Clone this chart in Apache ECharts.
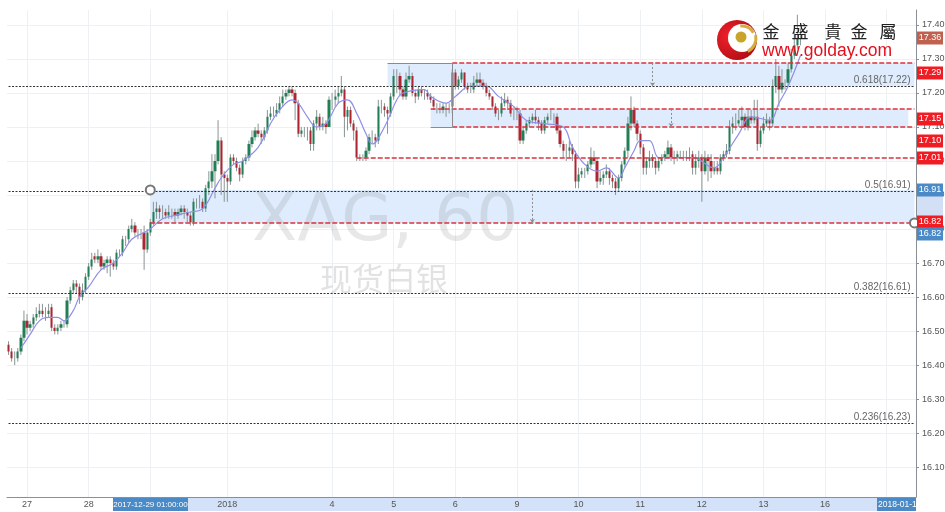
<!DOCTYPE html>
<html><head><meta charset="utf-8">
<style>html,body{margin:0;padding:0;background:#fff}#c{width:945px;height:512px;filter:blur(0.35px)}</style>
<script src="https://cdn.jsdelivr.net/npm/echarts@6/dist/echarts.min.js"></script>
</head><body><div id="c"></div>
<script>
const barCount = 295;
const dayTickIdx = [6,26,46,71,105,125,145,165,185,205,225,245,265,285];
const dayTickLabels = ['27','28','','2018','4','5','6','9','10','11','12','13','16',''];
const yTicks = [16.1,16.2,16.3,16.4,16.5,16.6,16.7,16.8,16.9,17.0,17.1,17.2,17.3,17.4];

const opens = [
16.46,16.44,16.42,16.42,16.44,16.48,16.53,16.51,16.52,16.54,
16.55,16.56,16.55,16.55,16.57,16.51,16.50,16.51,16.52,16.52,
16.59,16.62,16.64,16.63,16.60,16.62,16.66,16.69,16.72,16.71,
16.72,16.69,16.70,16.71,16.70,16.69,16.73,16.73,16.77,16.77,
16.80,16.81,16.79,16.79,16.79,16.74,16.79,16.82,16.85,16.86,
16.85,16.85,16.84,16.85,16.85,16.84,16.85,16.86,16.85,16.84,
16.82,16.88,16.88,16.88,16.86,16.92,16.94,16.97,17.00,17.06,
16.96,16.95,16.94,17.01,17.00,16.98,16.96,17.00,17.01,17.05,
17.07,17.09,17.08,17.07,17.09,17.13,17.14,17.14,17.15,17.17,
17.19,17.20,17.21,17.20,17.17,17.08,17.09,17.09,17.09,17.05,
17.11,17.13,17.10,17.11,17.10,17.18,17.18,17.19,17.20,17.21,
17.13,17.15,17.11,17.09,17.01,17.01,17.01,17.03,17.07,17.07,
17.06,17.16,17.16,17.15,17.14,17.19,17.25,17.25,17.21,17.19,
17.24,17.25,17.20,17.19,17.21,17.20,17.20,17.19,17.18,17.16,
17.16,17.15,17.16,17.16,17.16,17.26,17.22,17.24,17.26,17.22,
17.21,17.21,17.23,17.24,17.23,17.22,17.20,17.19,17.16,17.14,
17.14,17.17,17.18,17.17,17.14,17.14,17.14,17.06,17.09,17.11,
17.12,17.13,17.12,17.11,17.09,17.12,17.13,17.13,17.13,17.09,
17.05,17.03,17.03,17.04,17.02,16.94,16.96,16.97,16.97,16.99,
17.01,17.00,16.94,16.95,16.96,16.97,16.95,16.94,16.92,16.95,
16.99,17.03,17.11,17.15,17.11,17.08,17.04,16.98,17.00,17.01,
17.00,16.98,17.00,17.01,17.02,17.04,17.01,17.01,17.02,17.02,
17.02,17.02,17.02,16.98,17.00,17.01,16.97,17.01,17.00,16.97,
16.98,16.97,17.01,17.02,17.03,17.10,17.11,17.11,17.12,17.13,
17.10,17.13,17.12,17.13,17.05,17.09,17.11,17.12,17.11,17.22,
17.25,17.21,17.23,17.23,17.27,17.31,17.34,17.36];
const closes = [
16.44,16.42,16.42,16.44,16.48,16.53,16.51,16.52,16.54,16.55,
16.56,16.55,16.55,16.56,16.51,16.50,16.51,16.52,16.52,16.59,
16.62,16.64,16.63,16.60,16.62,16.66,16.69,16.71,16.71,16.72,
16.69,16.70,16.71,16.70,16.69,16.73,16.73,16.77,16.77,16.80,
16.81,16.79,16.79,16.79,16.74,16.79,16.82,16.85,16.86,16.85,
16.85,16.84,16.85,16.85,16.84,16.85,16.86,16.85,16.84,16.82,
16.88,16.88,16.88,16.86,16.92,16.94,16.97,17.00,17.06,16.96,
16.95,16.94,17.01,17.00,16.98,16.96,17.00,17.01,17.05,17.07,
17.09,17.08,17.07,17.09,17.13,17.14,17.14,17.15,17.17,17.19,
17.20,17.21,17.20,17.17,17.08,17.09,17.09,17.09,17.05,17.11,
17.13,17.10,17.11,17.10,17.18,17.18,17.19,17.20,17.21,17.13,
17.15,17.11,17.09,17.01,17.01,17.01,17.03,17.07,17.07,17.06,
17.16,17.16,17.15,17.14,17.19,17.25,17.25,17.21,17.19,17.24,
17.25,17.20,17.19,17.21,17.20,17.20,17.19,17.18,17.16,17.16,
17.16,17.16,17.16,17.16,17.26,17.22,17.24,17.26,17.22,17.21,
17.21,17.23,17.24,17.23,17.22,17.20,17.19,17.16,17.14,17.14,
17.17,17.18,17.17,17.14,17.14,17.14,17.06,17.09,17.11,17.12,
17.13,17.12,17.11,17.09,17.12,17.13,17.13,17.13,17.09,17.05,
17.03,17.03,17.04,17.02,16.94,16.96,16.97,16.97,16.99,17.01,
17.00,16.94,16.95,16.96,16.97,16.95,16.94,16.92,16.95,16.99,
17.03,17.11,17.15,17.11,17.08,17.04,16.98,17.00,17.01,17.00,
16.98,17.00,17.01,17.02,17.04,17.01,17.01,17.02,17.02,17.02,
17.02,17.02,16.98,17.00,17.01,16.97,17.01,17.00,16.97,16.98,
16.97,17.01,17.02,17.03,17.10,17.11,17.11,17.12,17.13,17.10,
17.13,17.12,17.13,17.05,17.09,17.11,17.12,17.11,17.22,17.25,
17.21,17.23,17.23,17.27,17.31,17.34,17.36,17.36];
const highs = [
16.47,16.45,16.44,16.45,16.49,16.56,16.55,16.53,16.55,16.57,
16.58,16.58,16.57,16.58,16.58,16.52,16.52,16.53,16.53,16.60,
16.63,16.65,16.65,16.64,16.64,16.67,16.70,16.73,16.73,16.74,
16.73,16.71,16.72,16.72,16.71,16.74,16.74,16.78,16.78,16.81,
16.83,16.82,16.80,16.80,16.81,16.80,16.83,16.88,16.88,16.87,
16.87,16.86,16.87,16.86,16.86,16.86,16.87,16.87,16.86,16.85,
16.89,16.89,16.90,16.89,16.93,16.97,17.02,17.02,17.12,17.07,
16.97,16.96,17.02,17.02,17.01,16.99,17.01,17.02,17.06,17.09,
17.10,17.11,17.09,17.10,17.15,17.16,17.16,17.17,17.19,17.21,
17.21,17.22,17.22,17.21,17.18,17.10,17.10,17.10,17.10,17.12,
17.15,17.14,17.13,17.12,17.19,17.20,17.21,17.22,17.25,17.22,
17.16,17.16,17.12,17.10,17.02,17.02,17.04,17.08,17.09,17.08,
17.18,17.18,17.17,17.16,17.20,17.27,17.27,17.26,17.22,17.26,
17.28,17.26,17.21,17.22,17.22,17.21,17.21,17.20,17.19,17.17,
17.17,17.17,17.17,17.17,17.27,17.27,17.25,17.27,17.26,17.23,
17.23,17.25,17.26,17.26,17.24,17.23,17.21,17.19,17.17,17.15,
17.19,17.20,17.19,17.18,17.16,17.16,17.15,17.10,17.12,17.13,
17.14,17.15,17.13,17.12,17.13,17.14,17.15,17.14,17.14,17.10,
17.06,17.05,17.06,17.05,17.03,16.98,16.98,16.98,17.00,17.04,
17.03,17.01,16.97,16.97,16.99,16.98,16.96,16.95,16.96,17.00,
17.04,17.13,17.19,17.16,17.12,17.09,17.05,17.01,17.03,17.02,
17.01,17.01,17.02,17.03,17.06,17.05,17.03,17.03,17.03,17.03,
17.03,17.04,17.03,17.02,17.03,17.02,17.03,17.02,17.02,17.00,
17.00,17.02,17.03,17.05,17.12,17.13,17.14,17.15,17.16,17.14,
17.15,17.15,17.18,17.18,17.10,17.13,17.14,17.13,17.24,17.30,
17.28,17.27,17.24,17.29,17.33,17.38,17.43,17.39];
const lows = [
16.43,16.41,16.40,16.41,16.43,16.47,16.49,16.50,16.51,16.53,
16.54,16.54,16.53,16.54,16.50,16.49,16.49,16.50,16.51,16.51,
16.58,16.61,16.61,16.58,16.59,16.61,16.65,16.68,16.70,16.70,
16.68,16.68,16.67,16.66,16.68,16.68,16.72,16.72,16.75,16.76,
16.79,16.78,16.77,16.77,16.68,16.73,16.78,16.81,16.83,16.83,
16.83,16.83,16.83,16.83,16.82,16.83,16.84,16.83,16.82,16.81,
16.81,16.86,16.86,16.85,16.85,16.90,16.92,16.89,16.99,16.90,
16.88,16.88,16.93,16.99,16.97,16.94,16.95,16.99,17.00,17.04,
17.06,17.07,17.05,17.06,17.08,17.12,17.13,17.13,17.14,17.16,
17.18,17.19,17.19,17.12,17.07,17.07,17.07,17.06,17.03,17.03,
17.09,17.09,17.09,17.08,17.10,17.15,17.16,17.17,17.19,17.07,
17.09,17.10,17.06,17.00,17.00,17.00,17.00,17.02,17.05,17.04,
17.05,17.14,17.13,17.08,17.13,17.18,17.20,17.19,17.18,17.18,
17.23,17.19,17.17,17.18,17.19,17.18,17.18,17.17,17.15,17.14,
17.14,17.14,17.13,17.14,17.14,17.21,17.21,17.23,17.21,17.20,
17.20,17.20,17.22,17.22,17.21,17.19,17.18,17.15,17.13,17.12,
17.13,17.16,17.15,17.13,17.12,17.12,17.05,17.05,17.08,17.10,
17.11,17.11,17.09,17.08,17.08,17.11,17.12,17.11,17.08,17.04,
17.01,17.00,17.01,17.00,16.92,16.92,16.95,16.95,16.96,16.98,
16.99,16.92,16.93,16.93,16.95,16.93,16.92,16.90,16.91,16.94,
16.98,17.01,17.09,17.10,17.06,17.02,16.96,16.96,16.98,16.98,
16.96,16.97,16.99,17.00,17.01,17.00,16.99,17.00,17.01,17.00,
17.00,17.00,16.96,16.96,16.98,16.88,16.96,16.94,16.95,16.96,
16.96,16.96,17.00,17.01,17.02,17.08,17.09,17.10,17.10,17.09,
17.09,17.11,17.11,17.03,17.04,17.08,17.10,17.09,17.10,17.20,
17.16,17.20,17.21,17.22,17.26,17.30,17.33,17.34];

// moving average read at the visible bends: bar index, value
const maIdx = [4,7,10,13,16,18,21,23,26,30,34,37,40,44,46,50,54,59,63,67,69,73,76,81,85,88,92,94,97,100,103,107,110,113,116,118,122,126,128,135,137,142,145,150,155,159,164,168,174,180,183,187,191,194,198,200,203,205,208,211,214,222,229,232,237,241,247,250,253,257];
const maValues = [16.45,16.49,16.53,16.54,16.54,16.53,16.56,16.60,16.63,16.68,16.70,16.73,16.77,16.79,16.80,16.83,16.84,16.85,16.86,16.92,16.95,16.99,17.00,17.04,17.11,17.15,17.18,17.17,17.13,17.10,17.11,17.17,17.18,17.14,17.08,17.05,17.10,17.18,17.20,17.21,17.19,17.17,17.19,17.22,17.22,17.19,17.16,17.12,17.11,17.10,17.04,16.99,16.97,16.98,16.95,16.98,17.03,17.06,17.06,17.01,17.01,17.01,16.98,17.01,17.08,17.13,17.12,17.17,17.22,17.31];

const fibLevels = [17.22,16.91,16.61,16.23];
const fibLabels = ['0.618(17.22)','0.5(16.91)','0.382(16.61)','0.236(16.23)'];
const redLevels = [17.288,17.153,17.10,17.009,16.818];
const redStarts = [144,137,144,113,46];
const bandTop = [17.288,17.153,16.915];
const bandBottom = [17.22,17.10,16.818];
const bandStart = [123,137,46];
const arrowIdx = [209,215,170];
const priceTagText = ['17.36','17.29','17.15','17.10','17.01','16.91','16.82','16.82'];
const axisTagText = ['2017-12-29 01:00:00','2018-01-17'];

const lastIdx = barCount - 1;
const categories = Array.from({length: barCount}, (_, i) => {
  const k = dayTickIdx.indexOf(i);
  return k >= 0 ? dayTickLabels[k] : '';
});
const isDay = i => dayTickIdx.indexOf(i) >= 0;
const candleData = closes.map((c, i) => [opens[i], c, lows[i], highs[i]]);
const wickData = closes.map((c, i) => [i, lows[i], highs[i]]);
const maData = maIdx.map((x, i) => [x, maValues[i]]);

const GRID = '#eef1f4';
const lineOf = (a, b, style, extra) => [Object.assign({coord: a, lineStyle: style}, extra || {}), {coord: b}];
const redStyle = {color: '#d9323c', type: [5, 2], width: 1.5};
const fibStyle = {color: '#333', type: [2, 1.5], width: 1};
const edgeStyle = {color: '#8b8b8b', type: 'solid', width: 1};
const arrowStyle = {color: '#8d8d8d', type: [2, 2], width: 1};

const markLines = [];
fibLevels.forEach((v, i) => markLines.push([
  {coord: [0, v], lineStyle: fibStyle, label: {show: true, position: 'insideEndTop', formatter: fibLabels[i], color: '#666', fontSize: 10, fontFamily: 'Liberation Sans', distance: [4, 1]}},
  {coord: [lastIdx, v]}]));
redLevels.forEach((v, i) => markLines.push(lineOf([redStarts[i], v], [lastIdx, v], redStyle)));
markLines.push(lineOf([bandStart[0], bandTop[0]], [144, bandTop[0]], edgeStyle));
markLines.push(lineOf([144, bandTop[0]], [144, bandBottom[1]], edgeStyle));
markLines.push(lineOf([137, bandBottom[1]], [144, bandBottom[1]], edgeStyle));
const arrowLines = arrowIdx.map((x, i) => [
  {coord: [x, bandTop[i]], lineStyle: arrowStyle, symbol: 'none'},
  {coord: [x, bandBottom[i]], symbol: 'arrow', symbolSize: 4}]);

const logoText = [['金',771],['盛',800],['貴',833],['金',859],['屬',888]];
const tagY = [38, 73, 119, 141, 158, 190, 222, 234];
const tagColor = ['#c2604f','#f01c24','#f01c24','#f01c24','#f01c24','#4a8ac6','#f01c24','#4a8ac6'];

const graphics = [
  {type:'text', z:1, silent:true, style:{x:252, y:190, text:'XAG, 60', fill:'rgba(110,110,110,0.16)', font:'66px "DejaVu Sans", sans-serif'}},
  {type:'text', z:1, silent:true, style:{x:320, y:263, text:'现货白银', fill:'rgba(110,110,110,0.2)', font:'32px "Noto Sans CJK SC", sans-serif'}},
  {type:'rect', z:-1, silent:true, shape:{x:151, y:498, width:735, height:13}, style:{fill:'#d3e2f8'}},
  {type:'rect', z:9, silent:true, shape:{x:917, y:190, width:26, height:33}, style:{fill:'#d3dff5'}},
  {type:'rect', z:10, silent:true, shape:{x:113, y:498, width:75, height:13}, style:{fill:'#4a8ac6'}},
  {type:'text', z:11, silent:true, style:{x:150.5, y:504.5, text:axisTagText[0], fill:'#fff', font:'8px "Liberation Sans", sans-serif', textAlign:'center', textVerticalAlign:'middle'}},
  {type:'group', z:10, silent:true, children:[
    {type:'rect', z:10, shape:{x:877, y:498, width:39, height:13}, style:{fill:'#4a8ac6'}},
    {type:'text', z:11, style:{x:878, y:504.5, text:'2018-01-1', fill:'#fff', font:'8.5px "Liberation Sans", sans-serif', textVerticalAlign:'middle'}}
  ]},
  // logo
  {type:'circle', z:12, silent:true, shape:{cx:737, cy:40, r:20}, style:{fill:{type:'radial',x:0.3,y:0.4,r:0.8,colorStops:[{offset:0,color:'#f0202a'},{offset:1,color:'#a80c14'}]}}},
  {type:'circle', z:13, silent:true, shape:{cx:742, cy:38, r:14}, style:{fill:'#fff'}},
  {type:'arc', z:14, silent:true, shape:{cx:742, cy:39, r:13, startAngle:-1.7, endAngle:-0.5}, style:{stroke:'#d6ad3c', lineWidth:3, fill:'none'}},
  {type:'arc', z:14, silent:true, shape:{cx:741, cy:38, r:15, startAngle:-0.2, endAngle:1.1}, style:{stroke:'#d6ad3c', lineWidth:3, fill:'none'}},
  {type:'circle', z:14, silent:true, shape:{cx:741, cy:37, r:5.5}, style:{fill:'#c9a42c'}},
  {type:'text', z:14, silent:true, style:{x:762, y:42, text:'www.golday.com', fill:'#e3101c', font:'17.5px "Liberation Sans", sans-serif'}}
];
logoText.forEach(p => graphics.push({type:'text', z:14, silent:true, style:{x:p[1], y:32, text:p[0], fill:'#222', font:'17px "Noto Sans CJK TC", sans-serif', textAlign:'center', textVerticalAlign:'middle'}}));
priceTagText.forEach((t, i) => {
  graphics.push({type:'rect', z:10, silent:true, shape:{x:917, y:tagY[i]-6.5, width:26, height:13}, style:{fill:tagColor[i]}});
  graphics.push({type:'text', z:11, silent:true, style:{x:930, y:tagY[i], text:t, fill:'#fff', font:'9px "Liberation Sans", sans-serif', textAlign:'center', textVerticalAlign:'middle'}});
});

const chart = echarts.init(document.getElementById('c'), null, {renderer:'canvas'});
chart.setOption({
  animation: false,
  backgroundColor: '#fff',
  grid: {left: 7, right: 29, top: 10, bottom: 15, outerBoundsMode: 'none'},
  graphic: {elements: graphics},
  xAxis: {
    type: 'category', data: categories, boundaryGap: true,
    axisLine: {lineStyle: {color: '#8a8f96', width: 1}},
    axisTick: {alignWithLabel: true, length: 2, lineStyle: {color: '#8a8f96'}, interval: i => isDay(i)},
    axisLabel: {interval: i => isDay(i), color: '#555', fontSize: 9, fontFamily: 'Liberation Sans', margin: 3, hideOverlap: false},
    splitLine: {show: true, alignWithLabel: true, interval: i => isDay(i), lineStyle: {color: GRID}}
  },
  yAxis: {
    type: 'value', position: 'right', scale: true, min: 16.012, max: 17.444,
    axisLine: {show: true, lineStyle: {color: '#8a8f96'}},
    axisTick: {show: true, length: 3, customValues: yTicks, lineStyle: {color: '#8a8f96'}},
    axisLabel: {color: '#555', fontSize: 9, fontFamily: 'Liberation Sans', margin: 6, customValues: yTicks, formatter: v => v.toFixed(2)},
    splitLine: {show: true, lineStyle: {color: GRID}}
  },
  series: [
    {type:'line', name:'zones', data:[], z:0, silent:true,
     markArea: {z:0, silent:true, itemStyle:{color:'#deecfd'}, data: bandTop.map((t, i) => [
       {coord:[bandStart[i], t]}, {coord:[i === 1 ? 292 : lastIdx, bandBottom[i]]}])}},
    {type:'custom', name:'wicks', z:2, silent:true, data: wickData, encode:{x:0, y:[1,2]},
     renderItem: (p, api) => {
       const a = api.coord([api.value(0), api.value(1)]);
       const b = api.coord([api.value(0), api.value(2)]);
       return {type:'line', shape:{x1:a[0], y1:a[1], x2:b[0], y2:b[1]}, style:{stroke:'#8a9494', lineWidth:1}};
     }},
    {type:'candlestick', name:'XAG', z:3, silent:true, data: candleData, barWidth: 2.8,
     itemStyle:{color:'#217f56', color0:'#ad2530', borderColor:'#217f56', borderColor0:'#ad2530', borderWidth:0}},
    {type:'line', name:'MA', z:4, silent:true, data: maData, smooth:0.4, showSymbol:false, lineStyle:{color:'#8f8fe8', width:1.2}},
    {type:'line', name:'levels', z:5, silent:true, data:[],
     markLine:{silent:true, symbol:'none', animation:false, precision:3, label:{show:false}, data: markLines.concat(arrowLines)},
     markPoint:{silent:true, symbol:'circle', symbolSize:9, label:{show:false}, itemStyle:{color:'#fff', borderColor:'#777', borderWidth:2},
       data:[{coord:[bandStart[2], bandTop[2]]},{coord:[lastIdx, bandBottom[2]]}]}}
  ]
});
</script></body></html>
